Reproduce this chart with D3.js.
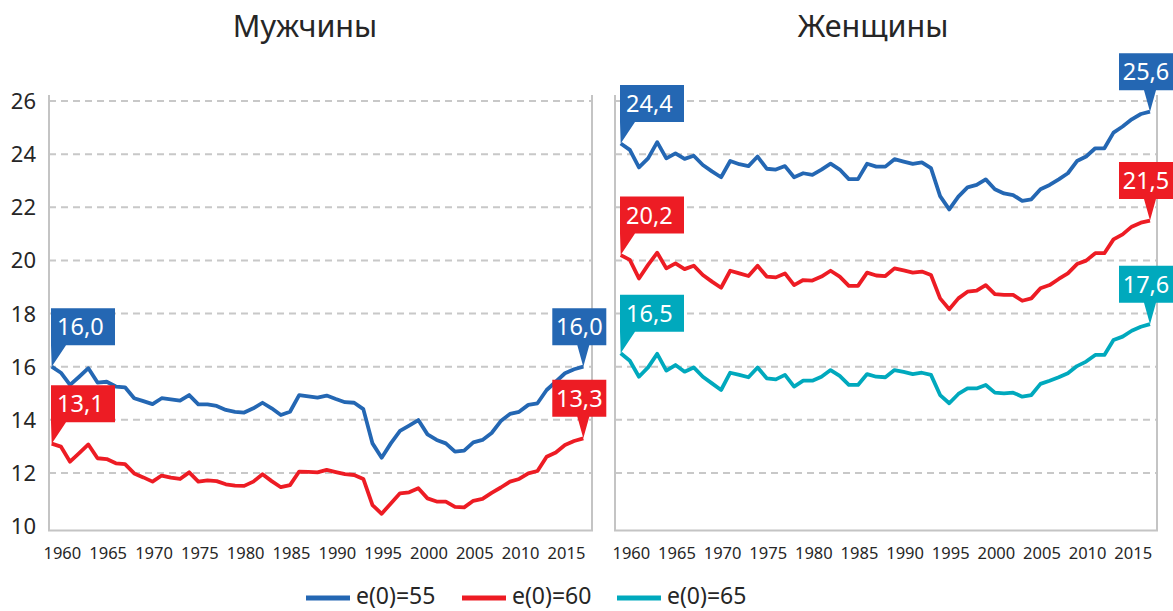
<!DOCTYPE html>
<html>
<head>
<meta charset="utf-8">
<title>e(0) - Мужчины / Женщины</title>
<script src="https://cdn.jsdelivr.net/npm/d3@7"></script>
<style>
  body { margin: 0; background: #fff; }
  svg text { font-family: "Noto Sans", "Open Sans", sans-serif; }
</style>
</head>
<body>
<div id="chart"></div>
<script>
// categories
var years = [1959, 1960, 1961, 1962, 1963, 1964, 1965, 1966, 1967, 1968,
  1969, 1970, 1971, 1972, 1973, 1974, 1975, 1976, 1977, 1978,
  1979, 1980, 1981, 1982, 1983, 1984, 1985, 1986, 1987, 1988,
  1989, 1990, 1991, 1992, 1993, 1994, 1995, 1996, 1997, 1998,
  1999, 2000, 2001, 2002, 2003, 2004, 2005, 2006, 2007, 2008,
  2009, 2010, 2011, 2012, 2013, 2014, 2015, 2016, 2017];
var xTicks = [1960, 1965, 1970, 1975, 1980, 1985, 1990, 1995, 2000, 2005, 2010, 2015];
var yTicks = [10, 12, 14, 16, 18, 20, 22, 24, 26];
var legendLabels = ["e(0)=55", "e(0)=60", "e(0)=65"];

// men
var menE55 = [16.0, 15.77, 15.31, 15.62, 15.94, 15.40, 15.43, 15.25, 15.22, 14.81,
  14.70, 14.59, 14.81, 14.77, 14.72, 14.93, 14.58, 14.58, 14.52, 14.37,
  14.30, 14.27, 14.43, 14.64, 14.43, 14.18, 14.30, 14.93, 14.88, 14.83,
  14.91, 14.78, 14.66, 14.64, 14.40, 13.11, 12.57, 13.11, 13.58, 13.78,
  13.99, 13.45, 13.24, 13.11, 12.80, 12.84, 13.15, 13.24, 13.50, 13.95,
  14.22, 14.30, 14.56, 14.62, 15.12, 15.43, 15.75, 15.90, 16.0];
var menE60 = [13.1, 12.99, 12.42, 12.74, 13.07, 12.55, 12.52, 12.36, 12.33, 11.98,
  11.83, 11.67, 11.90, 11.82, 11.77, 12.02, 11.67, 11.72, 11.69, 11.57,
  11.52, 11.51, 11.67, 11.95, 11.69, 11.46, 11.54, 12.05, 12.04, 12.02,
  12.11, 12.03, 11.95, 11.92, 11.77, 10.79, 10.46, 10.85, 11.23, 11.27,
  11.42, 11.04, 10.92, 10.92, 10.72, 10.70, 10.95, 11.02, 11.25, 11.45,
  11.67, 11.77, 11.98, 12.07, 12.61, 12.77, 13.05, 13.20, 13.3];

// women
var womenE55 = [24.4, 24.16, 23.50, 23.84, 24.45, 23.84, 24.03, 23.82, 23.94, 23.59,
  23.35, 23.13, 23.74, 23.62, 23.55, 23.91, 23.45, 23.42, 23.55, 23.13,
  23.28, 23.22, 23.42, 23.64, 23.42, 23.06, 23.06, 23.64, 23.53, 23.53,
  23.81, 23.72, 23.63, 23.69, 23.47, 22.42, 21.92, 22.40, 22.75, 22.84,
  23.05, 22.68, 22.52, 22.46, 22.24, 22.30, 22.68, 22.84, 23.05, 23.28,
  23.74, 23.91, 24.22, 24.22, 24.81, 25.04, 25.31, 25.51, 25.6];
var womenE60 = [20.2, 20.02, 19.32, 19.83, 20.29, 19.70, 19.89, 19.67, 19.80, 19.45,
  19.20, 18.97, 19.61, 19.51, 19.41, 19.80, 19.39, 19.36, 19.51, 19.07,
  19.26, 19.24, 19.39, 19.61, 19.39, 19.04, 19.04, 19.54, 19.43, 19.41,
  19.70, 19.62, 19.54, 19.58, 19.45, 18.57, 18.16, 18.57, 18.82, 18.86,
  19.07, 18.73, 18.70, 18.70, 18.48, 18.57, 18.95, 19.07, 19.30, 19.51,
  19.86, 19.99, 20.27, 20.27, 20.79, 20.98, 21.27, 21.42, 21.5];
var womenE65 = [16.5, 16.22, 15.62, 15.97, 16.48, 15.85, 16.06, 15.81, 15.97, 15.62,
  15.37, 15.12, 15.77, 15.69, 15.60, 15.97, 15.56, 15.52, 15.69, 15.25,
  15.47, 15.47, 15.62, 15.87, 15.65, 15.31, 15.31, 15.72, 15.62, 15.60,
  15.87, 15.80, 15.72, 15.77, 15.69, 14.93, 14.62, 14.97, 15.18, 15.18,
  15.31, 15.02, 14.99, 15.02, 14.87, 14.93, 15.35, 15.47, 15.60, 15.75,
  16.02, 16.19, 16.44, 16.44, 17.0, 17.13, 17.35, 17.5, 17.6];

// colors
var blue = "#2467b3";
var red = "#ed1c24";
var teal = "#00a9bd";
var gridColor = "#c8c8c8";
var frameColor = "#c4c4c4";
var textColor = "#262626";

var svg = d3.select("#chart").append("svg")
  .attr("width", 1173)
  .attr("height", 611);

var y = d3.scaleLinear().domain([10, 26]).range([526, 101]);
var fmt = function (v) { return d3.format(".1f")(v).replace(".", ","); };

var panels = [
  { title: "Мужчины", titleX: 305, left: 49, right: 592,
    x: d3.scaleLinear().domain([1959, 2017]).range([51.7, 583.3]),
    series: [{ values: menE55, color: blue }, { values: menE60, color: red }],
    yLabels: true },
  { title: "Женщины", titleX: 873, left: 615, right: 1157,
    x: d3.scaleLinear().domain([1959, 2017]).range([620.7, 1150]),
    series: [{ values: womenE55, color: blue }, { values: womenE60, color: red }, { values: womenE65, color: teal }],
    yLabels: false }
];

panels.forEach(function (p) {
  var g = svg.append("g");

  // title
  g.append("text")
    .attr("x", p.titleX)
    .attr("y", 37)
    .attr("text-anchor", "middle")
    .style("font-size", "30.5px")
    .style("fill", textColor)
    .text(p.title);

  // dashed grid
  g.selectAll(".grid")
    .data(yTicks.filter(function (t) { return t > 10; }))
    .enter().append("line")
    .attr("x1", p.left)
    .attr("x2", p.right)
    .attr("y1", function (d) { return y(d); })
    .attr("y2", function (d) { return y(d); })
    .style("stroke", gridColor)
    .style("stroke-width", 2)
    .style("stroke-dasharray", "7,5");

  // frame (left, bottom, right)
  g.append("path")
    .attr("d", "M" + p.left + ",95V530.5H" + p.right + "V95")
    .style("fill", "none")
    .style("stroke", frameColor)
    .style("stroke-width", 2);

  if (p.yLabels) {
    g.selectAll(".ylab")
      .data(yTicks)
      .enter().append("text")
      .attr("x", 36)
      .attr("y", function (d) { return y(d) + 8; })
      .attr("text-anchor", "end")
      .style("font-size", "22px")
      .style("fill", textColor)
      .text(function (d) { return d; });
  }

  g.selectAll(".xlab")
    .data(xTicks)
    .enter().append("text")
    .attr("x", function (d) { return p.x(d) + 1.5; })
    .attr("y", 559)
    .attr("text-anchor", "middle")
    .style("font-size", "16.5px")
    .style("fill", textColor)
    .text(function (d) { return d; });

  var line = d3.line()
    .x(function (d, i) { return p.x(years[i]); })
    .y(function (d) { return y(d); });

  p.series.forEach(function (s) {
    g.append("path")
      .attr("d", line(s.values))
      .style("fill", "none")
      .style("stroke", s.color)
      .style("stroke-width", 3.8)
      .style("stroke-linejoin", "round");
  });

  // callouts at first and last point
  p.series.forEach(function (s) {
    var n = s.values.length - 1;
    callout(g, p.x(years[0]), y(s.values[0]), fmt(s.values[0]), s.color, "left");
    callout(g, p.x(years[n]), y(s.values[n]), fmt(s.values[n]), s.color, "right");
  });
});

function callout(g, px, py, label, color, side) {
  var h = 37, top = py - 58.5, bot = top + h;
  var bx, w, d;
  if (side == "left") {
    bx = px - 0.7; w = 64;
    d = "M" + bx + "," + top + "h" + w + "v" + h + "H" + (bx + 15) +
      "L" + px + "," + py + "L" + bx + "," + bot + "Z";
  } else {
    bx = px - 31; w = 54;
    d = "M" + bx + "," + top + "h" + w + "v" + h + "H" + (px + 6) +
      "L" + px + "," + py + "L" + (px - 6) + "," + bot + "H" + bx + "Z";
  }
  g.append("path").attr("d", d).style("fill", color);
  g.append("text")
    .attr("x", side == "left" ? bx + 6 : bx + w / 2)
    .attr("y", top + h / 2 + 8.5)
    .attr("text-anchor", side == "left" ? "start" : "middle")
    .style("font-size", "23.5px")
    .style("fill", "#fff")
    .text(label);
}

// legend
var legend = svg.append("g");
var legendColors = [blue, red, teal];
var legendX = [306, 462, 617];
legendLabels.forEach(function (l, i) {
  legend.append("line")
    .attr("x1", legendX[i]).attr("x2", legendX[i] + 44)
    .attr("y1", 598).attr("y2", 598)
    .style("stroke", legendColors[i])
    .style("stroke-width", 5);
  legend.append("text")
    .attr("x", legendX[i] + 50)
    .attr("y", 604)
    .style("font-size", "23px")
    .style("fill", textColor)
    .text(l);
});
</script>
</body>
</html>
